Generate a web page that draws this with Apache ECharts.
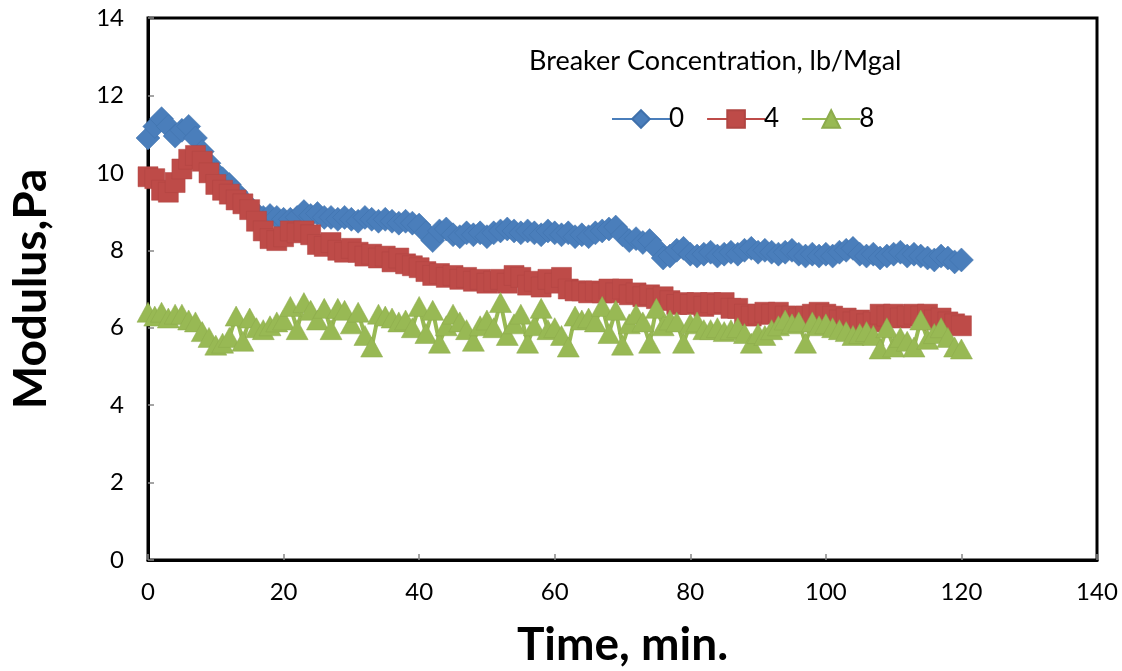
<!DOCTYPE html>
<html lang="en">
<head>
  <meta charset="UTF-8">
  <title>Modulus vs Time</title>
  <script src="https://cdn.jsdelivr.net/npm/echarts@6/dist/echarts.min.js"></script>
  <style>
    html, body { margin: 0; padding: 0; background: #fff; }
    #main { width: 1122px; height: 671px; }
  </style>
</head>
<body>
  <div id="main"></div>

  <script>
  // time in minutes
  const timeMin = [
    0, 1, 2, 3, 4, 5, 6, 7, 8, 9, 10, 11, 12, 13, 14, 15, 16, 17, 18, 19,
    20, 21, 22, 23, 24, 25, 26, 27, 28, 29, 30, 31, 32, 33, 34, 35, 36, 37, 38, 39,
    40, 41, 42, 43, 44, 45, 46, 47, 48, 49, 50, 51, 52, 53, 54, 55, 56, 57, 58, 59,
    60, 61, 62, 63, 64, 65, 66, 67, 68, 69, 70, 71, 72, 73, 74, 75, 76, 77, 78, 79,
    80, 81, 82, 83, 84, 85, 86, 87, 88, 89, 90, 91, 92, 93, 94, 95, 96, 97, 98, 99,
    100, 101, 102, 103, 104, 105, 106, 107, 108, 109, 110, 111, 112, 113, 114, 115, 116, 117, 118, 119,
    120
  ];

  // modulus (Pa), breaker 0 lb/Mgal
  const modulus0 = [
    10.9, 11.2, 11.4, 11.2, 10.95, 11.1, 11.2, 10.9, 10.55, 10.25,
    10.0, 9.85, 9.7, 9.5, 9.3, 9.1, 8.95, 8.85, 8.9, 8.85,
    8.8, 8.8, 8.85, 9.0, 8.9, 8.95, 8.85, 8.85, 8.8, 8.85,
    8.8, 8.75, 8.85, 8.8, 8.75, 8.8, 8.75, 8.7, 8.75, 8.7,
    8.65, 8.45, 8.25, 8.5, 8.55, 8.4, 8.35, 8.45, 8.4, 8.45,
    8.35, 8.45, 8.5, 8.55, 8.5, 8.45, 8.5, 8.45, 8.4, 8.5,
    8.45, 8.4, 8.45, 8.35, 8.4, 8.35, 8.45, 8.5, 8.55, 8.6,
    8.4, 8.25, 8.3, 8.2, 8.25, 8.05, 7.8, 7.85, 8.0, 8.05,
    7.9, 7.85, 7.9, 7.95, 7.85, 7.9, 7.95, 7.9, 8.0, 8.05,
    7.95, 8.0, 7.95, 7.9, 7.95, 8.0, 7.9, 7.85, 7.9, 7.85,
    7.9, 7.85, 7.95, 8.0, 8.05, 7.9, 7.85, 7.9, 7.8, 7.85,
    7.9, 7.95, 7.85, 7.9, 7.85, 7.8, 7.75, 7.85, 7.8, 7.7,
    7.75
  ];

  // modulus (Pa), breaker 4 lb/Mgal
  const modulus4 = [
    9.9, 9.85, 9.55, 9.5, 9.75, 10.1, 10.35, 10.45, 10.3, 10.0,
    9.7, 9.55, 9.45, 9.3, 9.2, 9.05, 8.75, 8.5, 8.3, 8.25,
    8.35, 8.5, 8.45, 8.5, 8.4, 8.15, 8.1, 8.2, 8.0, 7.95,
    8.05, 7.95, 7.85, 7.9, 7.8, 7.85, 7.7, 7.8, 7.65, 7.6,
    7.55, 7.45, 7.35, 7.4, 7.3, 7.35, 7.25, 7.3, 7.2, 7.25,
    7.15, 7.2, 7.25, 7.15, 7.35, 7.3, 7.1, 7.2, 7.05, 7.25,
    7.15, 7.3, 7.0, 6.95, 6.95, 6.9, 6.95, 6.9, 7.0, 6.9,
    7.0, 6.85, 6.9, 6.8, 6.85, 6.75, 6.8, 6.7, 6.6, 6.65,
    6.6, 6.65, 6.55, 6.65, 6.6, 6.65, 6.5, 6.5, 6.35, 6.3,
    6.35, 6.4, 6.35, 6.4, 6.3, 6.3, 6.25, 6.3, 6.35, 6.4,
    6.35, 6.3, 6.2, 6.25, 6.15, 6.2, 6.1, 6.15, 6.35, 6.3,
    6.35, 6.25, 6.3, 6.35, 6.3, 6.35, 6.2, 6.25, 6.15, 6.1,
    6.05
  ];

  // modulus (Pa), breaker 8 lb/Mgal
  const modulus8 = [
    6.4, 6.3, 6.4, 6.25, 6.35, 6.35, 6.2, 6.15, 5.9, 5.75,
    5.55, 5.6, 5.75, 6.3, 5.65, 6.25, 6.0, 5.95, 6.05, 6.15,
    6.2, 6.55, 5.95, 6.65, 6.45, 6.2, 6.5, 5.95, 6.5, 6.45,
    6.1, 6.4, 5.8, 5.5, 6.35, 6.3, 6.25, 6.15, 6.2, 6.0,
    6.55, 5.85, 6.45, 5.6, 6.05, 6.35, 6.15, 5.95, 5.65, 6.05,
    6.2, 6.0, 6.65, 5.8, 6.1, 6.35, 5.6, 6.05, 6.5, 5.95,
    6.0, 5.8, 5.5, 6.3, 6.2, 6.25, 6.15, 6.55, 5.85, 6.45,
    5.55, 6.1, 6.35, 6.15, 5.6, 6.5, 6.05, 6.2, 6.15, 5.6,
    6.1, 6.15, 5.95, 5.95, 6.0, 5.9, 5.95, 6.0, 5.85, 5.6,
    5.85, 5.8, 5.95, 6.05, 6.2, 6.1, 6.15, 5.6, 6.15, 6.05,
    6.1, 6.0, 5.95, 5.9, 5.8, 5.85, 5.9, 5.8, 5.45, 6.0,
    5.5, 5.75, 5.65, 5.5, 6.2, 5.7, 5.85, 6.0, 5.75, 5.5,
    5.45
  ];

  const seriesNames = ['0', '4', '8'];
  const colors = ['#4a7ebb', '#be4b48', '#98b954'];

  const font = 'Lato, "Open Sans", sans-serif';
  const chart = echarts.init(document.getElementById('main'));

  function pairs(ys) {
    return timeMin.map((t, i) => [t, ys[i]]);
  }

  chart.setOption({
    animation: false,
    textStyle: { fontFamily: font },
    title: {
      text: 'Breaker Concentration, lb/Mgal',
      left: 524,
      top: 43,
      textStyle: { fontFamily: font, fontSize: 27, fontWeight: 'normal', color: '#000' }
    },
    legend: {
      data: seriesNames,
      left: 606,
      top: 101,
      itemWidth: 58,
      itemHeight: 22,
      itemGap: 22,
      textStyle: { fontFamily: font, fontSize: 26, color: '#000', padding: [0, 0, 0, -6] }
    },
    grid: {
      left: 148,
      top: 18,
      right: 25,
      bottom: 111,
      outerBoundsMode: 'none',
      show: true,
      borderColor: '#000',
      borderWidth: 3,
      backgroundColor: '#fff'
    },
    xAxis: {
      type: 'value',
      min: 0,
      max: 140,
      interval: 20,
      name: 'Time, min.',
      nameLocation: 'middle',
      nameGap: 62,
      nameTextStyle: { fontFamily: font, fontSize: 46, fontWeight: 'bold', color: '#000' },
      axisLine: { show: true, lineStyle: { color: '#000', width: 3 } },
      axisTick: { show: true, inside: true, length: 6, lineStyle: { color: '#888', width: 1.5 } },
      axisLabel: { fontFamily: font, fontSize: 24, color: '#000', margin: 20 },
      splitLine: { show: false }
    },
    yAxis: {
      type: 'value',
      min: 0,
      max: 14,
      interval: 2,
      name: 'Modulus,Pa',
      nameLocation: 'middle',
      nameGap: 94,
      nameTextStyle: { fontFamily: font, fontSize: 46, fontWeight: 'bold', color: '#000' },
      axisLine: { show: true, lineStyle: { color: '#000', width: 3 } },
      axisTick: { show: true, inside: true, length: 6, lineStyle: { color: '#888', width: 1.5 } },
      axisLabel: { fontFamily: font, fontSize: 24, color: '#000', margin: 24 },
      splitLine: { show: false }
    },
    series: [
      {
        name: seriesNames[0],
        type: 'line',
        data: pairs(modulus0),
        symbol: 'diamond',
        symbolSize: 24,
        itemStyle: { color: colors[0], borderColor: '#3f70ab', borderWidth: 0.5 },
        lineStyle: { color: colors[0], width: 4 }
      },
      {
        name: seriesNames[1],
        type: 'line',
        data: pairs(modulus4),
        symbol: 'rect',
        symbolSize: 20,
        itemStyle: { color: colors[1], borderColor: '#b04542', borderWidth: 0.5 },
        lineStyle: { color: colors[1], width: 4 }
      },
      {
        name: seriesNames[2],
        type: 'line',
        data: pairs(modulus8),
        symbol: 'triangle',
        symbolSize: [22, 20],
        itemStyle: { color: colors[2], borderColor: '#8cab4c', borderWidth: 0.5 },
        lineStyle: { color: colors[2], width: 4 }
      }
    ]
  });
  </script>
</body>
</html>
